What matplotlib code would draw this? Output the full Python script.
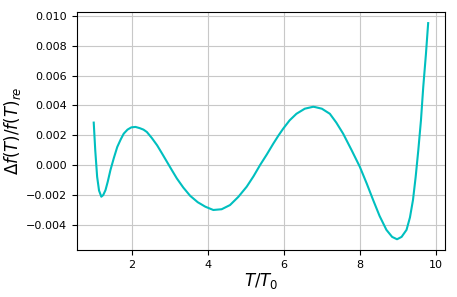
import matplotlib
matplotlib.use("Agg")
import matplotlib.pyplot as plt

# points
T_ratio = [0.99, 1.03, 1.08, 1.13, 1.19, 1.24, 1.30, 1.36, 1.43, 1.52, 1.61, 1.70, 1.78, 1.88,
           1.98, 2.09, 2.20, 2.30, 2.39, 2.52, 2.66, 2.79, 2.92, 3.05, 3.18, 3.35, 3.53, 3.73,
           3.93, 4.14, 4.36, 4.58, 4.80, 5.02, 5.20, 5.37, 5.55, 5.72, 5.85, 5.98, 6.15, 6.33,
           6.55, 6.77, 6.82, 7.00, 7.21, 7.38, 7.56, 7.78, 8.00, 8.18, 8.35, 8.52, 8.70, 8.85,
           8.98, 9.10, 9.23, 9.32, 9.40, 9.47, 9.54, 9.61, 9.67, 9.74, 9.80]
delta_f = [0.00285, 0.00100, -0.00078, -0.00170, -0.00211, -0.00200, -0.00167, -0.00110,
           -0.00033, 0.00048, 0.00122, 0.00172, 0.00211, 0.00238, 0.00253, 0.00256, 0.00248,
           0.00238, 0.00222, 0.00182, 0.00133, 0.00078, 0.00022, -0.00034, -0.00089, -0.00150,
           -0.00205, -0.00248, -0.00278, -0.00300, -0.00295, -0.00267, -0.00212, -0.00144,
           -0.00074, 0.00000, 0.00072, 0.00144, 0.00196, 0.00244, 0.00300, 0.00344, 0.00378,
           0.00391, 0.00389, 0.00378, 0.00344, 0.00285, 0.00211, 0.00102, -0.00011, -0.00122,
           -0.00233, -0.00340, -0.00433, -0.00480, -0.00496, -0.00480, -0.00433, -0.00350,
           -0.00233, -0.00080, 0.00100, 0.00300, 0.00522, 0.00740, 0.00951]

fig = plt.figure(figsize=(4.57, 2.97), dpi=100)
ax = fig.add_axes([0.1685, 0.158, 0.805, 0.8006])
ax.plot(T_ratio, delta_f, color="c", linewidth=1.5)
ax.grid(True, color="#c8c8c8")
ax.set_xticks([2, 4, 6, 8, 10])
ax.set_yticks([-0.004, -0.002, 0.0, 0.002, 0.004, 0.006, 0.008, 0.010])
ax.set_yticklabels(["\u22120.004", "\u22120.002", "0.000", "0.002", "0.004", "0.006", "0.008", "0.010"])
ax.tick_params(labelsize=8)
ax.set_xlabel(r"$T/T_0$", fontsize=12, labelpad=1)
ax.set_ylabel(r"$\Delta f(T)/f(T)_{re}$", fontsize=12, labelpad=2)
fig.savefig("out.png", dpi=100)
